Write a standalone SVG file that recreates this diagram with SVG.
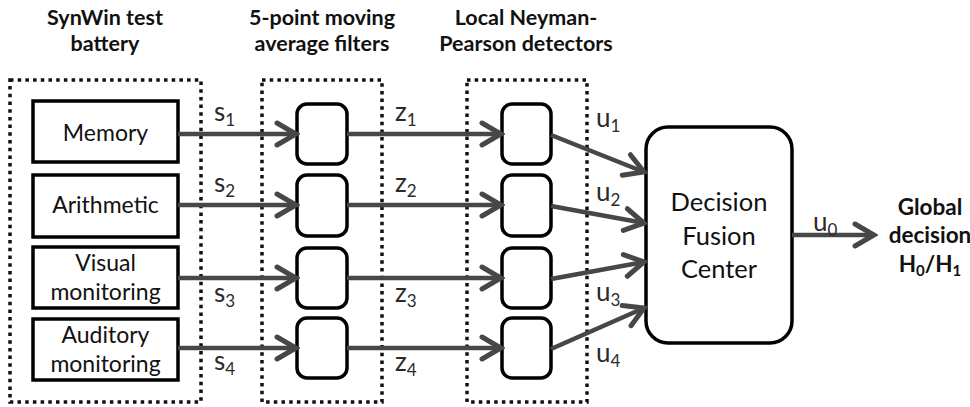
<svg xmlns="http://www.w3.org/2000/svg" width="970" height="407" viewBox="0 0 970 407">
  <defs>
    <marker id="chev" markerUnits="userSpaceOnUse" viewBox="-24 -14 28 28" markerWidth="28" markerHeight="28" refX="0" refY="0" orient="auto">
      <path d="M -19 -11 L 0 0 L -19 11" fill="none" stroke="#474747" stroke-width="5" stroke-linecap="round" stroke-linejoin="miter"/>
    </marker>
    <style>
      .group { fill: none; stroke: #111; stroke-width: 3.5; stroke-dasharray: 3.5 4.2; }
      .src { fill: #fff; stroke: #000; stroke-width: 3.5; }
      .blk { fill: #fff; stroke: #000; stroke-width: 3.5; }
      .edge { fill: none; stroke: #474747; stroke-width: 4.5; marker-end: url(#chev); }
      .head { font-family: Lato, "Liberation Sans", sans-serif; font-weight: bold; font-size: 21.5px; fill: #111; text-anchor: middle; }
      .out { font-family: Lato, "Liberation Sans", sans-serif; font-weight: bold; font-size: 22.5px; fill: #111; text-anchor: middle; }
      .txt { font-family: Lato, "Liberation Sans", sans-serif; font-size: 23px; fill: #111; text-anchor: middle; }
      .big { font-family: Lato, "Liberation Sans", sans-serif; font-size: 25.5px; fill: #111; text-anchor: middle; }
      .lbl { font-family: Lato, "Liberation Sans", sans-serif; font-size: 26px; fill: #2a2a2a; }
      .sub { font-size: 17px; }
    </style>
  </defs>

  <!-- column headings -->
  <text class="head" x="105" y="25">SynWin test</text>
  <text class="head" x="105" y="51">battery</text>
  <text class="head" x="322" y="25">5-point moving</text>
  <text class="head" x="322" y="51">average filters</text>
  <text class="head" x="526" y="25">Local Neyman-</text>
  <text class="head" x="526" y="51">Pearson detectors</text>

  <!-- dotted grouping frames -->
  <rect class="group" x="10" y="80" width="191" height="322"/>
  <rect class="group" x="262" y="80" width="120" height="322"/>
  <rect class="group" x="467" y="80" width="120" height="322"/>

  <!-- test battery -->
  <g id="memory">
    <rect class="src" x="33" y="101" width="145" height="61"/>
    <text class="txt" x="105.5" y="141">Memory</text>
  </g>
  <g id="arithmetic">
    <rect class="src" x="33" y="175" width="145" height="62"/>
    <text class="txt" x="105.5" y="213">Arithmetic</text>
  </g>
  <g id="visual">
    <rect class="src" x="33" y="247" width="145" height="61"/>
    <text class="txt" x="105.5" y="271">Visual</text>
    <text class="txt" x="105.5" y="300">monitoring</text>
  </g>
  <g id="auditory">
    <rect class="src" x="33" y="319" width="145" height="61"/>
    <text class="txt" x="105.5" y="343">Auditory</text>
    <text class="txt" x="105.5" y="372">monitoring</text>
  </g>

  <!-- moving average filters -->
  <g id="filter1"><rect class="blk" x="297" y="104" width="50" height="60" rx="10"/></g>
  <g id="filter2"><rect class="blk" x="297" y="175" width="50" height="61" rx="10"/></g>
  <g id="filter3"><rect class="blk" x="297" y="248" width="50" height="60" rx="10"/></g>
  <g id="filter4"><rect class="blk" x="297" y="318" width="50" height="60" rx="10"/></g>

  <!-- local detectors -->
  <g id="detector1"><rect class="blk" x="502" y="104" width="49" height="60" rx="10"/></g>
  <g id="detector2"><rect class="blk" x="502" y="175" width="49" height="61" rx="10"/></g>
  <g id="detector3"><rect class="blk" x="502" y="248" width="49" height="60" rx="10"/></g>
  <g id="detector4"><rect class="blk" x="502" y="318" width="49" height="60" rx="10"/></g>

  <!-- fusion center -->
  <g id="fusion">
    <rect class="blk" x="646" y="127" width="146" height="216" rx="22"/>
    <text class="big" x="719" y="211">Decision</text>
    <text class="big" x="719" y="245">Fusion</text>
    <text class="big" x="719" y="278">Center</text>
  </g>

  <!-- global decision output -->
  <g id="output">
    <text class="out" x="930" y="215">Global</text>
    <text class="out" x="930" y="243">decision</text>
    <text class="out" x="930" y="272">H<tspan font-size="15" dy="4">0</tspan><tspan dy="-4">/H</tspan><tspan font-size="15" dy="4">1</tspan></text>
  </g>

  <!-- connectors -->
  <g id="connectors">
    <line class="edge" x1="178" y1="134" x2="296" y2="134"/>
    <line class="edge" x1="178" y1="205" x2="296" y2="205"/>
    <line class="edge" x1="178" y1="278" x2="296" y2="278"/>
    <line class="edge" x1="178" y1="348" x2="296" y2="348"/>

    <line class="edge" x1="347" y1="134" x2="501" y2="134"/>
    <line class="edge" x1="347" y1="205" x2="501" y2="205"/>
    <line class="edge" x1="347" y1="278" x2="501" y2="278"/>
    <line class="edge" x1="347" y1="348" x2="501" y2="348"/>

    <line class="edge" x1="551" y1="135" x2="644" y2="172"/>
    <line class="edge" x1="551" y1="206" x2="644" y2="223"/>
    <line class="edge" x1="551" y1="279" x2="644" y2="262"/>
    <line class="edge" x1="551" y1="349" x2="644" y2="308"/>

    <line class="edge" x1="792" y1="235" x2="874" y2="235"/>
  </g>

  <!-- signal labels -->
  <g id="labels">
    <text class="lbl" x="214" y="121">s<tspan class="sub" dy="5">1</tspan></text>
    <text class="lbl" x="214" y="192">s<tspan class="sub" dy="5">2</tspan></text>
    <text class="lbl" x="214" y="302">s<tspan class="sub" dy="5">3</tspan></text>
    <text class="lbl" x="214" y="370">s<tspan class="sub" dy="5">4</tspan></text>

    <text class="lbl" x="395" y="121">z<tspan class="sub" dy="5">1</tspan></text>
    <text class="lbl" x="395" y="192">z<tspan class="sub" dy="5">2</tspan></text>
    <text class="lbl" x="395" y="302">z<tspan class="sub" dy="5">3</tspan></text>
    <text class="lbl" x="395" y="371">z<tspan class="sub" dy="5">4</tspan></text>

    <text class="lbl" x="596" y="127">u<tspan class="sub" dy="5">1</tspan></text>
    <text class="lbl" x="596" y="201">u<tspan class="sub" dy="5">2</tspan></text>
    <text class="lbl" x="596" y="301">u<tspan class="sub" dy="5">3</tspan></text>
    <text class="lbl" x="596" y="362">u<tspan class="sub" dy="5">4</tspan></text>

    <text class="lbl" x="813" y="231">u<tspan class="sub" dy="5">0</tspan></text>
  </g>
</svg>
